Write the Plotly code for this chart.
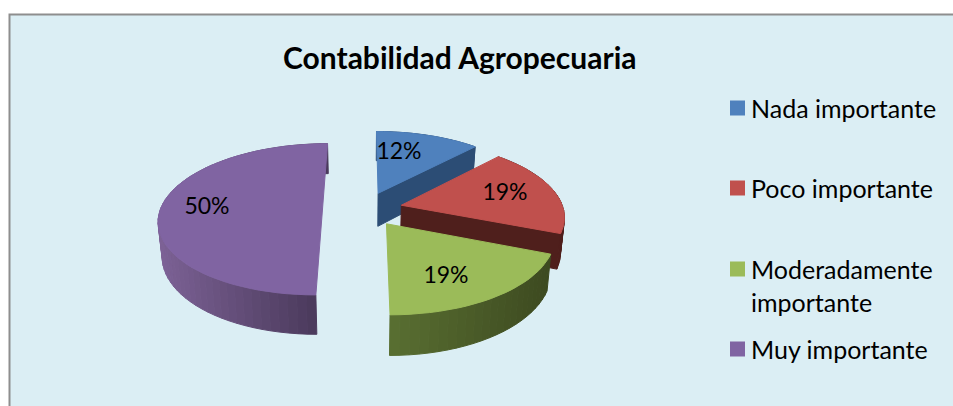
import numpy as np
import plotly.graph_objects as go

title = "Contabilidad Agropecuaria"
categories = ["Nada importante", "Poco importante", "Moderadamente<br>importante", "Muy importante"]
values = [12, 19, 19, 50]
pct_labels = ["12%", "19%", "19%", "50%"]

top_colors = ["#4f81bd", "#c0504d", "#9bbb59", "#8064a2"]
wall_light = ["#2c4d75", "#4f1f1c", "#5a7032", "#7d6296"]
wall_dark = ["#2c4d75", "#4f1f1c", "#3d4a20", "#483859"]

# pie geometry, in screen pixels
CX, CY = 364.5, 209
R = 162
PULLS = [38, 38, 38, 42]
TILT = 0.458
PERSP = 1187
DEPTH = 34
BOTTOM_X = 0.98

label_x = [399, 505, 446, 207]
label_y = [153, 194, 277, 208]
legend_y = [108, 188, 269, 349]

FONT = "Lato"


def project(theta, radius, mid, pull, bottom=False):
    # theta clockwise from the back of the pie, degrees
    x = radius * np.sin(np.radians(theta)) + pull * np.sin(np.radians(mid))
    z = radius * np.cos(np.radians(theta)) + pull * np.cos(np.radians(mid))
    w = 1 + z / PERSP
    sx = x / w
    sy = CY - TILT * z / w
    if bottom:
        sx = sx * BOTTOM_X
        sy = sy + DEPTH / w
    return CX + sx, sy


def poly(fig, xs, ys, color):
    fig.add_trace(go.Scatter(x=xs, y=ys, mode="lines", fill="toself", fillcolor=color,
                             line=dict(color=color, width=1), hoverinfo="skip", showlegend=False))


def mix(c1, c2, t):
    a = [int(c1[i:i + 2], 16) for i in (1, 3, 5)]
    b = [int(c2[i:i + 2], 16) for i in (1, 3, 5)]
    return "rgb({},{},{})".format(*[round(a[i] + (b[i] - a[i]) * t) for i in range(3)])


fig = go.Figure()

# draw order: purple first, then back to front
ends = np.cumsum(values) * 3.6
starts = ends - np.array(values) * 3.6
for i in [3, 0, 1, 2]:
    start, end = starts[i], ends[i]
    mid = (start + end) / 2
    pull = PULLS[i]
    arc = np.linspace(start, end, int((end - start) / 3) + 2)
    tx, ty = project(arc, R, mid, pull)
    bx, by = project(arc, R, mid, pull, bottom=True)

    # outer wall
    for j in range(len(arc) - 1):
        t = (tx[j] - tx.min()) / (tx.max() - tx.min())
        poly(fig, [tx[j], tx[j + 1], bx[j + 1], bx[j], tx[j]],
             [ty[j], ty[j + 1], by[j + 1], by[j], ty[j]],
             mix(wall_light[i], wall_dark[i], t))

    # cut face, only seen when it looks towards the viewer
    cx0, cy0 = project(end, 0, mid, pull)
    cx1, cy1 = project(end, 0, mid, pull, bottom=True)
    if end < 180:
        poly(fig, [cx0, tx[-1], bx[-1], cx1, cx0], [cy0, ty[-1], by[-1], cy1, cy0], wall_dark[i])

    # top face
    poly(fig, [cx0, *tx, cx0], [cy0, *ty, cy0], top_colors[i])

# percent labels
fig.add_trace(go.Scatter(x=label_x, y=label_y, mode="text", text=pct_labels,
                         textfont=dict(family=FONT, size=23, color="#000000"),
                         hoverinfo="skip", showlegend=False))

# legend
for i, name in enumerate(categories):
    fig.add_trace(go.Scatter(x=[737.5], y=[legend_y[i]], mode="markers",
                             marker=dict(symbol="square", size=15, color=top_colors[i], line=dict(width=0)),
                             hoverinfo="skip", showlegend=False))
    for n, part in enumerate(name.split("<br>")):
        fig.add_annotation(x=751, y=legend_y[i] + 33 * n, text=part, showarrow=False, xanchor="left",
                           xshift=-2, font=dict(family=FONT, size=25, color="#000000"))

fig.add_annotation(x=460, y=57, text="<b>" + title + "</b>", showarrow=False,
                   font=dict(family=FONT, size=30, color="#000000"))

fig.add_shape(type="rect", x0=9.5, y0=14.5, x1=970, y1=420, layer="below",
              fillcolor="#dbeef4", line=dict(color="#8e8e8e", width=2))

fig.update_layout(
    width=953,
    height=406,
    margin=dict(l=0, r=0, t=0, b=0),
    paper_bgcolor="#ffffff",
    plot_bgcolor="#ffffff",
    xaxis=dict(range=[0, 953], visible=False, fixedrange=True),
    yaxis=dict(range=[406, 0], visible=False, fixedrange=True),
    showlegend=False,
)

fig.write_html("out.html", config=dict(displayModeBar=False),
               post_script="document.body.style.margin='0';document.body.style.overflow='hidden';")
